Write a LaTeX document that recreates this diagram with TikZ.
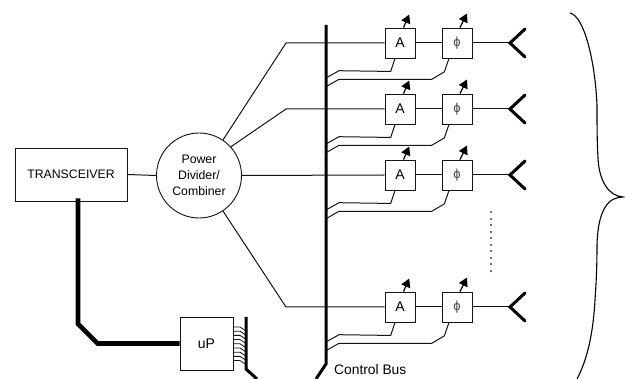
\documentclass[tikz,border=0pt]{standalone}
\usepackage{fontspec}
\setmainfont{Liberation Sans}
\usetikzlibrary{arrows.meta}
\definecolor{ink}{gray}{0.08}
\tikzset{
  thin line/.style={draw=ink,line width=1pt},
  box/.style={draw=ink,line width=0.9pt,fill=white,inner sep=0pt},
  small box/.style={box,minimum width=30pt,minimum height=30pt,font=\fontsize{14}{14}\selectfont},
  phi box/.style={small box,font=\fontsize{13}{13}\selectfont,text=ink!80},
  bus line/.style={draw=black,line width=3pt,line join=miter},
  fat line/.style={draw=black,line width=4.6pt,line join=miter},
  antenna/.style={draw=black,line width=3pt,line cap=round,line join=miter},
  tune/.style={draw=black,line width=1.2pt,-{Triangle[length=8.5pt,width=9.5pt]}},
  label text/.style={inner sep=0pt,align=center,font=\fontsize{12.3}{16}\selectfont}
}
\begin{document}
\begin{tikzpicture}[x=1pt,y=-1pt]
\useasboundingbox (0,0) rectangle (625,379);
\fill[white] (0,0) rectangle (625,379);
% buses
\coordinate (bt) at (326,25);
\coordinate (bb) at (326,364);
\coordinate (be) at (316,379);
\coordinate (st) at (246,317);
\coordinate (sb) at (246,369);
\coordinate (se) at (257,379);
% main nodes
\node[box,minimum width=112pt,minimum height=53pt,font=\fontsize{12.3}{14}\selectfont] (tr) at (71,174.5) {TRANSCEIVER};
\node[box,circle,minimum size=85pt,label text] (pd) at (199,175.5) {Power\\Divider/\\Combiner};
\node[box,minimum width=53pt,minimum height=53pt,font=\fontsize{14}{14}\selectfont] (up) at (206.5,343.5) {uP};
\draw[thin line] (tr.east) -- (pd.west);
% rows
\foreach \n/\y/\ang in {1/43/56.5,2/109/42,3/175/0,4/307/-56}{
  \node[small box] (a\n) at (400,\y) {A};
  \node[phi box] (p\n) at (457,\y) {ϕ};
  \coordinate (k\n) at (286,\y);
  \coordinate (ant\n) at (510,\y);
  \ifnum\n=3
    \draw[thin line] (pd.east) -- (a\n.west);
  \else
    \draw[thin line] (pd.\ang) -- (k\n) -- (a\n.west);
  \fi
  \draw[thin line] (a\n.east) -- (p\n.west);
  \draw[thin line] (p\n.east) -- (ant\n);
  \draw[antenna] (525,\y-14) -- (ant\n) -- (525,\y+14);
  \draw[tune] ([xshift=3.5pt]a\n.north) -- ++(5.7,-13);
  \draw[tune] ([xshift=3pt]p\n.north) -- ++(7,-14);
  \draw[thin line] ([xshift=-5pt]a\n.south) -- ++(-4.3,13) -- (339,\y+27.7) -- (326,\y+35);
  \draw[thin line] ([xshift=-8pt]p\n.south) -- ++(-4.7,13.5) -- (431.7,\y+36.3) -- (339,\y+36.3) -- (326,\y+43.7);
}
\draw[bus line] (bt) -- (bb) -- (be);
% uP fan-out
\foreach \i in {0,...,8}{
  \draw[draw=ink,line width=0.8pt] (up.east |- 0,327+\i*4.2) -- (240,327+\i*4.2) -- (246,331+\i*4.2);
}
\draw[bus line] (st) -- (sb) -- (se);
% thick link
\coordinate (t1) at (78,324);
\coordinate (t2) at (97.5,343.5);
\draw[fat line] (78,198.5) -- (t1) -- (t2) -- (up.west);
% dotted
\coordinate (d1) at (491,211.5);
\coordinate (d2) at (491,276.5);
\draw[draw=ink!60,line width=1.8pt,dash pattern=on 1.8pt off 4.7pt] (d1) -- (d2);
% brace
\coordinate (b0) at (570,13);
\coordinate (bm) at (623,197);
\coordinate (b1) at (577,379);
\draw[draw=black,line width=1.1pt] (b0) .. controls (584,16) and (595,60) .. (597,105)
  .. controls (597,125) and (597,140) .. (598,158)
  .. controls (599,180) and (608,196) .. (bm)
  .. controls (608,197) and (598,210) .. (597,245)
  .. controls (597,270) and (596,285) .. (595,300)
  .. controls (593,335) and (587,360) .. (b1);
\node[anchor=base west,inner sep=0pt,font=\fontsize{13.8}{14}\selectfont] (cb) at (334,375) {Control Bus};
\end{tikzpicture}
\end{document}
